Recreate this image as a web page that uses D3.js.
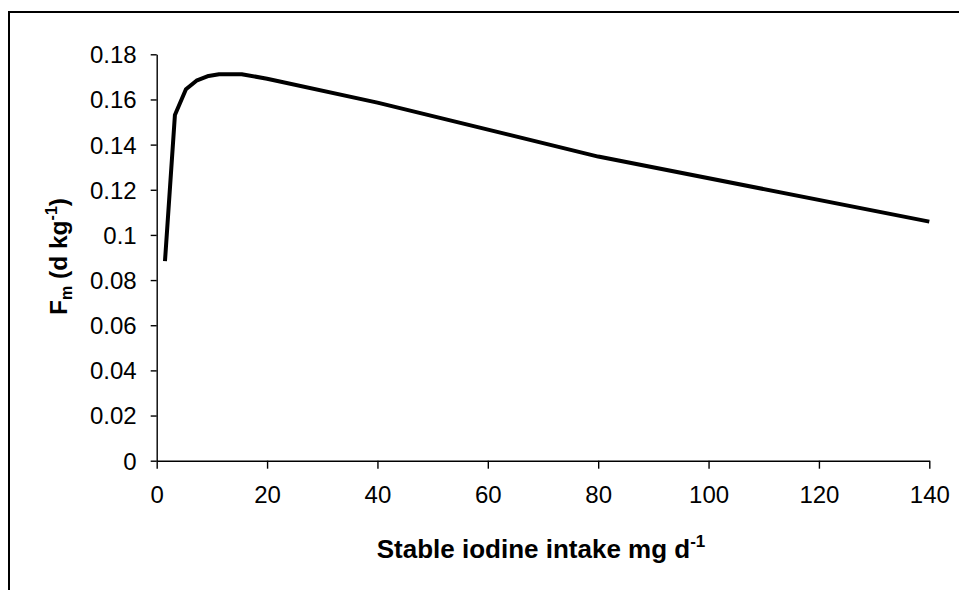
<!DOCTYPE html>
<html>
<head>
<meta charset="utf-8">
<script src="https://cdn.jsdelivr.net/npm/d3@7"></script>
<style>
  body { margin: 0; background: #fff; }
  svg { display: block; }
  text { font-family: "Liberation Sans", Arial, sans-serif; fill: #000; }
</style>
</head>
<body>
<svg id="chart" width="959" height="590"></svg>
<script>
// stable iodine intake (mg/d) and Fm (d/kg)
var intake = [1.5, 3.3, 5.3, 7.2, 9.4, 11.3, 15.4, 20, 40, 80, 140];
var fm = [0.0884, 0.1531, 0.1645, 0.1683, 0.1704, 0.1712, 0.1712, 0.1692, 0.1586, 0.1347, 0.1059];
var xTicks = [0, 20, 40, 60, 80, 100, 120, 140];
var yTicks = [0, 0.02, 0.04, 0.06, 0.08, 0.1, 0.12, 0.14, 0.16, 0.18];

var svg = d3.select("#chart");

// outer chart border (runs off the right and bottom edges)
svg.append("rect")
    .attr("x", 9).attr("y", 12)
    .attr("width", 970).attr("height", 600)
    .attr("fill", "none")
    .attr("stroke", "#000")
    .attr("stroke-width", 2);

var x = d3.scaleLinear().domain([0, 140]).range([156.7, 929.3]);
var y = d3.scaleLinear().domain([0, 0.18]).range([460.7, 54.3]);

// y axis
var gy = svg.append("g")
    .attr("transform", "translate(" + x(0) + ",0)")
    .call(d3.axisLeft(y)
        .tickValues(yTicks)
        .tickSize(6)
        .tickSizeOuter(0)
        .tickPadding(14)
        .tickFormat(function(d) { return String(+d.toFixed(2)); }));
gy.selectAll("text").attr("font-size", 24).attr("dy", "0.35em");

// x axis
var gx = svg.append("g")
    .attr("transform", "translate(0," + y(0) + ")")
    .call(d3.axisBottom(x)
        .tickValues(xTicks)
        .tickSize(8)
        .tickSizeOuter(0)
        .tickPadding(22));
gx.selectAll("text").attr("font-size", 24).attr("dy", "0.71em").attr("y", 25);

svg.selectAll(".domain, .tick line")
    .attr("stroke", "#000")
    .attr("stroke-width", 1.4);
svg.selectAll(".tick text").attr("fill", "#000");

// the curve
var line = d3.line()
    .x(function(d, i) { return x(intake[i]); })
    .y(function(d) { return y(d); });

svg.append("path")
    .datum(fm)
    .attr("d", line)
    .attr("fill", "none")
    .attr("stroke", "#000")
    .attr("stroke-width", 4)
    .attr("stroke-linejoin", "round");

// x axis title
var xt = svg.append("text")
    .attr("x", 541)
    .attr("y", 558)
    .attr("text-anchor", "middle")
    .attr("font-size", 26)
    .attr("font-weight", "bold");
xt.append("tspan").text("Stable iodine intake mg d");
xt.append("tspan").attr("font-size", 17).attr("dy", -11).text("-1");

// y axis title
var yt = svg.append("text")
    .attr("transform", "translate(67," + ((y(0) + y(0.18)) / 2 - 1) + ") rotate(-90)")
    .attr("text-anchor", "middle")
    .attr("font-size", 24.5)
    .attr("font-weight", "bold");
yt.append("tspan").text("F");
yt.append("tspan").attr("font-size", 16).attr("dy", 5).text("m");
yt.append("tspan").attr("dy", -5).text(" (d kg");
yt.append("tspan").attr("font-size", 16).attr("dy", -10).text("-1");
yt.append("tspan").attr("dy", 10).text(")");
</script>
</body>
</html>
